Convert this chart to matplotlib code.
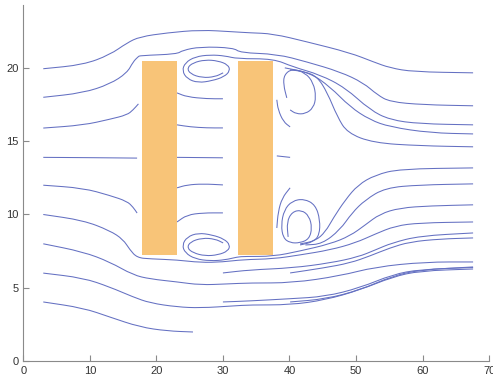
import matplotlib
matplotlib.use("Agg")
import matplotlib.pyplot as plt
from matplotlib.path import Path
from matplotlib.patches import PathPatch
import numpy as np

plt.rcParams['font.family'] = ['Liberation Sans', 'DejaVu Sans']

# obstacles (x0, x1, y0, y1)
rect_x0 = [17.8, 32.2]
rect_x1 = [23.05, 37.55]
rect_y0 = [7.25, 7.25]
rect_y1 = [20.5, 20.5]

# streamlines, (x, y) pairs
# seeds at x=3
s3_y20 = [(3.0, 19.95), (9.0, 20.22), (13.0, 20.9), (15.6, 21.72), (17.5, 22.13), (21.6, 22.4),
          (26.6, 22.6), (31.6, 22.47), (34.1, 22.4), (37.5, 22.34), (42.6, 21.79), (49.1, 21.04),
          (52.6, 20.42), (55.1, 20.01), (58.6, 19.74), (67.6, 19.67)]
s3_y18 = [(3.0, 18.0), (9.0, 18.3), (13.0, 18.9), (15.6, 19.67), (16.5, 20.42), (17.25, 20.77),
          (17.55, 20.85), (23.1, 20.95), (23.9, 21.2), (26.6, 21.45), (31.6, 21.38), (32.6, 21.04),
          (38.1, 20.95), (42.6, 20.42), (47.6, 19.74), (51.1, 18.99), (53.2, 18.17), (55.1, 17.69),
          (60.1, 17.49), (67.6, 17.42)]
s3_y16 = [(3.0, 15.9), (9.0, 16.1), (13.0, 16.5), (15.6, 16.8), (16.5, 17.14), (17.3, 17.55)]
s3_y14 = [(3.0, 13.9), (10.0, 13.88), (17.1, 13.85)]
s3_y12 = [(3.0, 12.0), (9.0, 11.8), (13.0, 11.3), (15.6, 10.9), (16.5, 10.5), (17.1, 10.1)]
s3_y10 = [(3.0, 10.0), (9.0, 9.6), (13.0, 8.9), (15.0, 8.3), (16.0, 7.6), (17.1, 7.05), (19.1, 6.97),
          (23.1, 6.9), (26.6, 6.72), (30.0, 6.76), (33.0, 6.92), (37.55, 6.97), (41.6, 7.24),
          (46.1, 7.58), (49.9, 8.06), (52.9, 8.67), (55.9, 9.22), (59.6, 9.43), (67.6, 9.49)]
s3_y8 = [(3.0, 8.0), (9.0, 7.45), (13.0, 6.76), (16.5, 5.87), (19.05, 5.6), (23.1, 5.4), (26.6, 5.19),
         (30.6, 5.26), (34.1, 5.33), (40.4, 5.33), (47.6, 5.81), (52.9, 6.42), (60.4, 6.76), (67.6, 6.76)]
s3_y6 = [(3.0, 6.0), (9.0, 5.67), (13.0, 5.05), (16.5, 4.37), (19.05, 3.96), (23.1, 3.69), (26.6, 3.62),
         (31.6, 3.76), (34.1, 3.83), (40.1, 3.83), (45.4, 4.17), (50.6, 4.85), (55.5, 5.74),
         (59.6, 6.15), (67.6, 6.28)]
s3_y4 = [(3.0, 4.03), (9.0, 3.62), (13.0, 3.0), (17.5, 2.32), (21.6, 2.05), (25.5, 1.98)]

# seeds at x=30
s30_y20 = [(30.03, 19.67), (28.83, 19.4), (26.87, 19.33), (25.07, 19.6), (24.62, 20.01), (25.52, 20.36),
           (27.32, 20.56), (29.28, 20.49), (30.78, 20.22), (31.08, 19.81), (30.18, 19.4), (28.38, 19.13),
           (26.27, 18.99), (24.62, 19.26), (23.87, 19.81), (24.32, 20.36), (25.82, 20.77), (28.08, 20.9),
           (30.33, 20.83), (32.14, 20.63), (37.6, 20.63), (40.5, 20.08), (44.6, 19.54), (48.4, 18.65),
           (52.1, 17.14), (55.1, 16.46), (59.6, 16.19), (67.6, 16.12)]
s30_y18 = [(30.0, 17.9), (27.6, 17.9), (24.6, 18.03), (23.1, 18.3)]
s30_y16 = [(30.0, 15.91), (27.6, 15.91), (25.1, 15.98), (23.1, 16.12)]
s30_y14 = [(30.0, 13.87), (23.1, 13.9)]
s30_y12 = [(30.0, 12.02), (27.0, 12.09), (24.6, 12.02), (23.1, 11.82)]
s30_y10 = [(30.0, 10.11), (27.0, 10.11), (24.6, 9.97), (23.1, 9.49)]
s30_y8 = [(30.03, 8.06), (28.83, 8.33), (26.87, 8.4), (25.07, 8.13), (24.62, 7.72), (25.52, 7.38),
          (27.32, 7.17), (29.28, 7.24), (30.78, 7.51), (31.08, 7.92), (30.18, 8.33), (28.38, 8.61),
          (26.27, 8.74), (24.62, 8.47), (23.87, 7.92), (24.32, 7.38), (25.82, 6.97), (28.08, 6.83),
          (30.33, 6.9), (32.14, 7.1), (33.3, 7.14), (37.55, 7.14), (41.6, 7.51), (46.1, 7.99),
          (49.1, 8.54), (51.4, 9.29), (53.6, 10.04), (56.6, 10.45), (61.2, 10.59), (67.6, 10.66)]
s30_y6 = [(30.0, 6.01), (34.1, 6.22), (40.4, 6.35), (46.1, 6.69), (50.3, 7.1), (52.9, 7.58),
          (55.4, 8.06), (59.6, 8.54), (67.6, 8.74)]
s30_y4 = [(30.0, 4.03), (34.1, 4.1), (40.1, 4.25), (45.4, 4.4), (50.6, 5.0), (55.5, 5.9),
          (59.6, 6.25), (67.6, 6.38)]

# seeds at x=40
s40_y20a = [(39.3, 20.01), (43.1, 19.67), (46.1, 18.72), (49.1, 17.35), (52.1, 16.46), (55.1, 15.98),
            (61.2, 15.57), (67.6, 15.5)]
s40_y20b = [(40.1, 19.88), (42.4, 19.74), (44.2, 19.4), (45.7, 18.31), (47.2, 16.67), (48.7, 15.57),
            (52.6, 14.89), (59.6, 14.69), (67.6, 14.62)]
s40_y18 = [(39.6, 17.96), (39.1, 18.85), (39.2, 19.54), (40.4, 19.95), (42.4, 19.67), (43.6, 18.99),
           (44.0, 18.03), (43.6, 17.28), (42.4, 16.87), (41.0, 16.87), (40.1, 17.14)]
s40_y16 = [(40.1, 15.98), (39.1, 16.33), (38.3, 17.14), (38.1, 17.83)]
s40_y14 = [(40.1, 13.9), (38.1, 14.0)]
s40_y12 = [(40.1, 11.82), (38.9, 11.13), (38.3, 10.18), (38.1, 9.08)]
s40_y8 = [(39.8, 8.47), (39.6, 9.49), (40.4, 10.18), (41.8, 10.31), (42.96, 9.9), (43.4, 9.08),
          (42.96, 8.33), (41.6, 8.06), (40.1, 8.06), (39.05, 8.4), (38.75, 9.29), (39.2, 10.31),
          (40.4, 10.93), (42.2, 11.07), (43.9, 10.66), (44.6, 9.63), (44.5, 8.61), (43.6, 8.13),
          (41.6, 7.92)]
s40_y10a = [(41.6, 7.99), (43.9, 8.2), (45.4, 8.81), (46.6, 9.77), (48.4, 11.0), (50.3, 12.02),
            (52.9, 12.7), (56.6, 13.11), (67.6, 13.18)]
s40_y10b = [(42.4, 7.92), (44.9, 7.99), (47.6, 8.95), (49.4, 10.11), (51.4, 11.0), (54.4, 11.82),
            (59.6, 12.02), (67.6, 12.09)]
s40_y6 = [(40.1, 6.01), (45.1, 6.35), (49.1, 6.69), (52.1, 7.17), (55.1, 7.72), (58.1, 8.13),
          (62.7, 8.33), (67.6, 8.4)]
s40_y4 = [(40.1, 4.03), (45.4, 4.23), (50.6, 4.85), (55.5, 5.8), (59.6, 6.22), (67.6, 6.42)]

streamlines = [s3_y20, s3_y18, s3_y16, s3_y14, s3_y12, s3_y10, s3_y8, s3_y6, s3_y4,
               s30_y20, s30_y18, s30_y16, s30_y14, s30_y12, s30_y10, s30_y8, s30_y6, s30_y4,
               s40_y20a, s40_y20b, s40_y18, s40_y16, s40_y14, s40_y12, s40_y8,
               s40_y10a, s40_y10b, s40_y6, s40_y4]


def smooth_path(pts):
    # quadratic bezier through the midpoints, read points act as control points
    pts = np.array(pts, dtype=float)
    if len(pts) < 3:
        return Path(pts)
    verts = [pts[0], (pts[0] + pts[1]) / 2]
    codes = [Path.MOVETO, Path.LINETO]
    for i in range(1, len(pts) - 1):
        verts += [pts[i], (pts[i] + pts[i + 1]) / 2]
        codes += [Path.CURVE3, Path.CURVE3]
    verts.append(pts[-1])
    codes.append(Path.LINETO)
    return Path(verts, codes)


fig = plt.figure(figsize=(4.93, 3.79), dpi=100)
ax = fig.add_axes([0.0473, 0.0475, 0.9447, 0.9393])

for line in streamlines:
    ax.add_patch(PathPatch(smooth_path(line), facecolor='none', edgecolor='#6470c2',
                           lw=0.75, zorder=2))

for x0, x1, y0, y1 in zip(rect_x0, rect_x1, rect_y0, rect_y1):
    ax.add_patch(plt.Rectangle((x0, y0), x1 - x0, y1 - y0, facecolor='#f8c478',
                               edgecolor='none', zorder=3))

ax.set_xlim(0, 70)
ax.set_ylim(0, 24.3)
ax.set_xticks(range(0, 71, 10))
ax.set_yticks(range(0, 21, 5))
ax.spines['top'].set_visible(False)
ax.spines['right'].set_visible(False)
for s in ['left', 'bottom']:
    ax.spines[s].set_color('#8a8a8a')
    ax.spines[s].set_linewidth(0.8)
ax.tick_params(direction='in', length=4, width=0.8, colors='#8a8a8a',
               labelcolor='#333333', labelsize=8)

fig.savefig('out.png', dpi=100, facecolor='white')
